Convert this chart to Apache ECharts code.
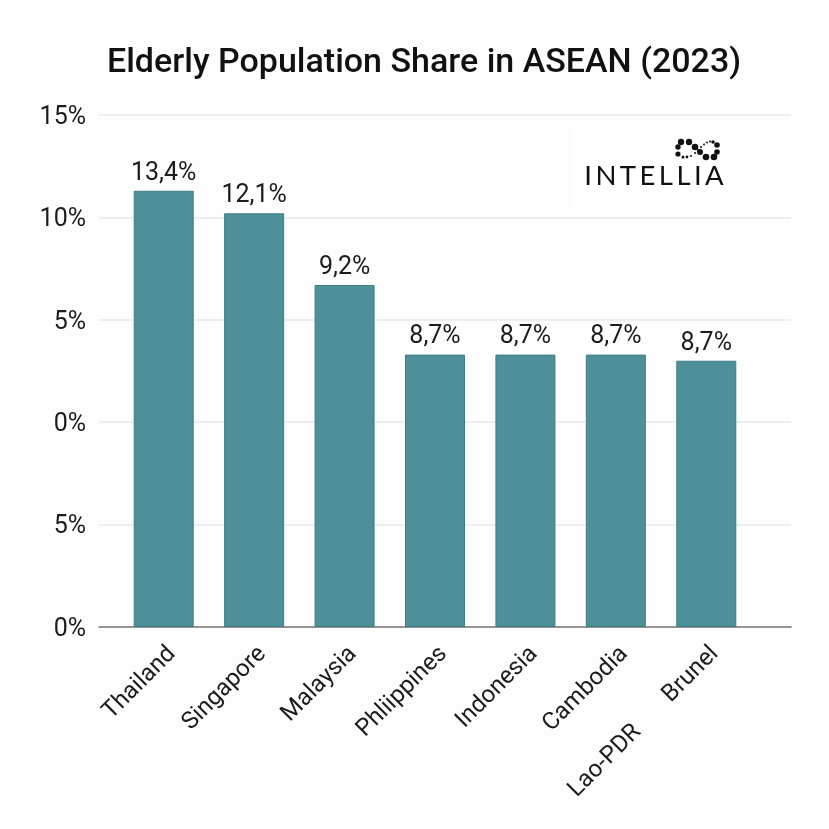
<!DOCTYPE html>
<html lang="en">

<head>
    <meta charset="UTF-8">
    <title>Elderly Population Share in ASEAN (2023)</title>
    <script src="https://cdn.jsdelivr.net/npm/echarts@6/dist/echarts.min.js"></script>
    <style>
        html, body { margin: 0; padding: 0; background: #fdfdfd; }
        #main { width: 829px; height: 829px; }
    </style>
</head>

<body>
    <div id="main"></div>
    <script>
        const countries = ['Thailand', 'Singapore', 'Malaysia', 'Phliippines', 'Indonesia', 'Cambodia', 'Brunel'];
        const extraCountry = 'Lao-PDR';
        // bar heights as drawn, the axis in the picture does not agree with the printed labels
        const barHeights = [21.3, 20.2, 16.7, 13.3, 13.3, 13.3, 13.0];
        const barLabels = ['13,4%', '12,1%', '9,2%', '8,7%', '8,7%', '8,7%', '8,7%'];
        const tickLabels = ['0%', '5%', '0%', '5%', '10%', '15%'];
        const logoName = 'I\u2009N\u2009T\u2009E\u2009L\u2009L\u2009I\u2009A';
        // logo dots: [x, y, r]
        const logoDots = [
            [681, 142, 3.2], [689, 142, 3.2], [678, 147, 2.7], [695, 147, 3.3], [678, 154, 2.6],
            [683, 157, 1.5], [687, 157, 1.4], [691, 156, 1], [695, 153, 1], [698, 150, 1],
            [701, 147, 1], [704, 144.5, 1], [707, 142.5, 1], [710, 141.5, 1], [700, 152, 3],
            [706, 157, 3.3], [714, 157, 3.3], [717, 152, 2.8], [717, 145, 2.8], [713, 142, 1.8]
        ];

        const chart = echarts.init(document.getElementById('main'));
        const font = 'Roboto';

        const option = {
            animation: false,
            backgroundColor: '#fdfdfd',
            title: {
                text: 'Elderly Population Share in ASEAN (2023)',
                left: 102,
                top: 41,
                textStyle: { fontFamily: font, fontSize: 34, fontWeight: 500, color: '#111' }
            },
            grid: [
                { left: 99, right: 38, top: 115, height: 512 },
                { left: 118.5, width: 633, top: 115, height: 512 }
            ],
            xAxis: [
                {
                    type: 'category',
                    gridIndex: 0,
                    data: [''],
                    axisTick: { show: false },
                    axisLabel: { show: false },
                    axisLine: { lineStyle: { color: '#777', width: 1.5 } }
                },
                {
                    type: 'category',
                    gridIndex: 1,
                    data: countries,
                    axisTick: { show: false },
                    axisLine: { show: false },
                    axisLabel: {
                        interval: 0,
                        rotate: 45,
                        margin: 15,
                        verticalAlign: 'top',
                        fontFamily: font,
                        fontSize: 24,
                        color: '#1c1c1c'
                    }
                }
            ],
            yAxis: [
                {
                    type: 'value',
                    gridIndex: 0,
                    min: 0,
                    max: 25,
                    interval: 5,
                    axisLine: { show: false },
                    axisTick: { show: false },
                    splitLine: { lineStyle: { color: '#e8e8e8', width: 1.5 } },
                    axisLabel: {
                        margin: 13,
                        formatter: (value) => '{t|' + tickLabels[value / 5] + '}',
                        rich: {
                            t: { padding: [5, 0, 0, 0], fontFamily: font, fontSize: 25, color: '#1c1c1c' }
                        }
                    }
                },
                {
                    type: 'value',
                    gridIndex: 1,
                    min: 0,
                    max: 25,
                    interval: 5,
                    show: false
                }
            ],
            series: [{
                type: 'bar',
                xAxisIndex: 1,
                yAxisIndex: 1,
                barWidth: 60,
                data: barHeights,
                itemStyle: { color: '#4f8f9a', borderColor: '#3d7c86', borderWidth: 1 },
                label: {
                    show: true,
                    position: 'top',
                    distance: 5,
                    fontFamily: font,
                    fontSize: 25,
                    color: '#1c1c1c',
                    formatter: (p) => barLabels[p.dataIndex]
                }
            }],
            graphic: [
                {
                    type: 'text',
                    x: 629,
                    y: 720,
                    rotation: Math.PI / 4,
                    style: {
                        text: extraCountry,
                        align: 'right',
                        verticalAlign: 'top',
                        font: '24px ' + font,
                        fill: '#1c1c1c'
                    }
                },
                {
                    type: 'rect',
                    shape: { x: 573, y: 128, width: 164, height: 82 },
                    style: { fill: '#ffffff' }
                },
                {
                    type: 'text',
                    x: 654,
                    y: 176,
                    style: {
                        text: logoName,
                        align: 'center',
                        verticalAlign: 'middle',
                        font: '27.5px Lato',
                        fill: '#111'
                    }
                }
            ].concat(logoDots.map(d => ({
                type: 'circle',
                shape: { cx: d[0], cy: d[1], r: d[2] },
                style: { fill: '#111' }
            })))
        };

        chart.setOption(option);
    </script>
</body>

</html>
